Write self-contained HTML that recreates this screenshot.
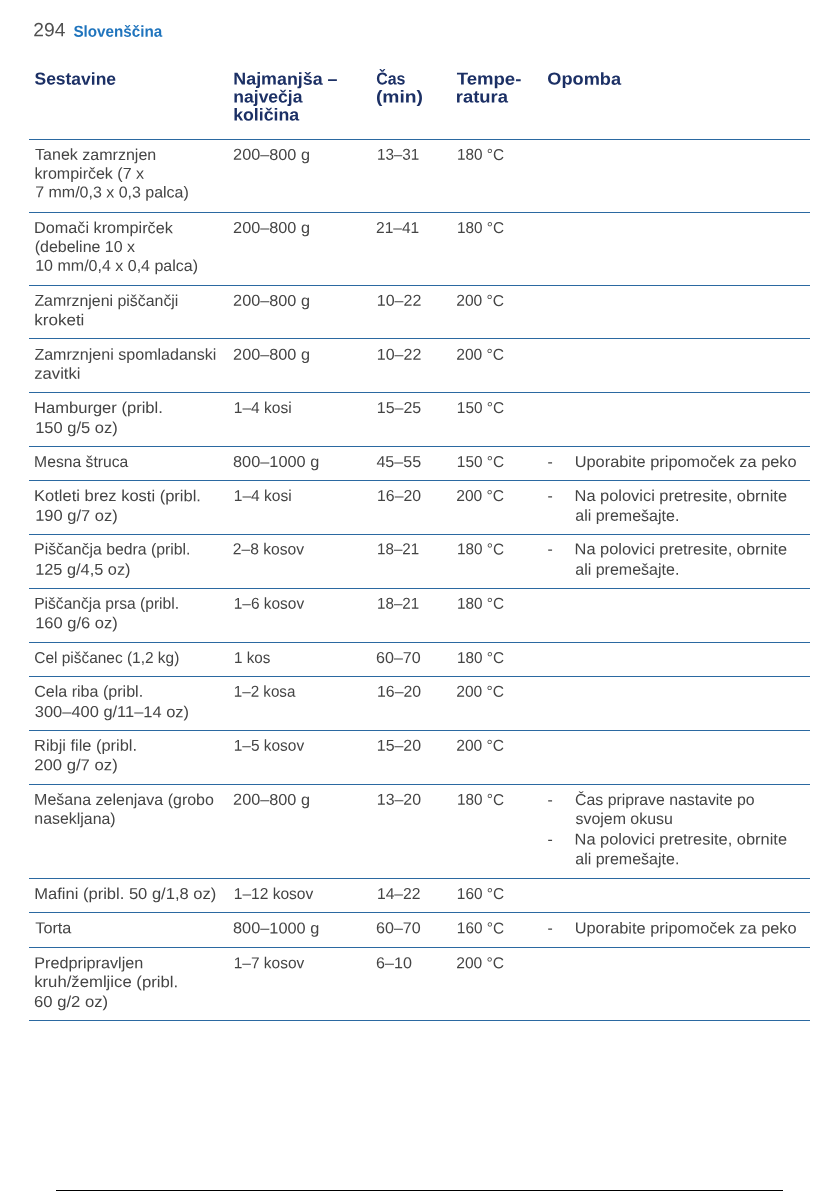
<!DOCTYPE html>
<html lang="sl"><head><meta charset="utf-8"><title>294 Slovenščina</title>
<style>
html,body{margin:0;padding:0;background:#fff;}
body{width:839px;height:1191px;position:relative;overflow:hidden;font-family:"Liberation Sans",sans-serif;}
span{position:absolute;white-space:nowrap;transform-origin:0 0;}
.b{font-size:15.8px;line-height:20px;font-weight:400;color:#444444;}
.h{font-size:17.2px;line-height:20px;font-weight:700;color:#1c3065;}
.pn{font-size:19.2px;line-height:22px;font-weight:400;color:#505050;}
.lang{font-size:15.8px;line-height:20px;font-weight:700;color:#1f74bd;}
.r{position:absolute;left:29px;width:781px;height:1px;background:#2b69a1;}
.foot{position:absolute;left:56px;width:727px;top:1190px;height:1px;background:#000;}
</style></head><body>
<div class="r" style="top:139px"></div><div class="r" style="top:212px"></div><div class="r" style="top:285px"></div><div class="r" style="top:338px"></div><div class="r" style="top:392px"></div><div class="r" style="top:446px"></div><div class="r" style="top:480px"></div><div class="r" style="top:534px"></div><div class="r" style="top:588px"></div><div class="r" style="top:642px"></div><div class="r" style="top:676px"></div><div class="r" style="top:730px"></div><div class="r" style="top:784px"></div><div class="r" style="top:878px"></div><div class="r" style="top:912px"></div><div class="r" style="top:947px"></div><div class="r" style="top:1020px"></div>
<div class="foot"></div>
<span class="pn" style="left:33px;top:19px;transform:translate(0.30px,0.30px) rotate(.04deg) scale(1.0008,1)">294</span>
<span class="lang" style="left:73px;top:21px;transform:translate(0.42px,0.80px) rotate(.04deg) scale(0.9635,1)">Slovenščina</span>
<span class="h" style="left:34px;top:68px;transform:translate(0.49px,0.60px) rotate(.04deg) scale(1.0161,1)">Sestavine</span>
<span class="h" style="left:233px;top:68px;transform:translate(0.33px,0.60px) rotate(.04deg) scale(1.0383,1)">Najmanjša –</span>
<span class="h" style="left:233px;top:86px;transform:translate(0.35px,0.50px) rotate(.04deg) scale(1.0183,1)">največja</span>
<span class="h" style="left:233px;top:104px;transform:translate(0.21px,0.50px) rotate(.04deg) scale(1.0306,1)">količina</span>
<span class="h" style="left:376px;top:68px;transform:translate(0.20px,0.60px) rotate(.04deg) scale(0.9267,1)">Čas</span>
<span class="h" style="left:375px;top:86px;transform:translate(0.92px,0.50px) rotate(.04deg) scale(1.1205,1)">(min)</span>
<span class="h" style="left:456px;top:68px;transform:translate(0.73px,0.60px) rotate(.04deg) scale(1.0803,1)">Tempe-</span>
<span class="h" style="left:455px;top:86px;transform:translate(0.80px,0.50px) rotate(.04deg) scale(1.0702,1)">ratura</span>
<span class="h" style="left:547px;top:68px;transform:translate(0.31px,0.60px) rotate(.04deg) scale(1.0575,1)">Opomba</span>
<span class="b" style="left:35px;top:144px;transform:translate(0.12px,0.85px) rotate(.04deg) scale(1.0144,1)">Tanek zamrznjen</span>
<span class="b" style="left:34px;top:163px;transform:translate(0.61px,0.65px) rotate(.04deg) scale(1.0134,1)">krompirček (7 x</span>
<span class="b" style="left:35px;top:182px;transform:translate(0.22px,0.35px) rotate(.04deg) scale(1.0113,1)">7 mm/0,3 x 0,3 palca)</span>
<span class="b" style="left:233px;top:144px;transform:translate(0.10px,0.85px) rotate(.04deg) scale(1.0296,1)">200–800 g</span>
<span class="b" style="left:376px;top:144px;transform:translate(0.89px,0.85px) rotate(.04deg) scale(0.9672,1)">13–31</span>
<span class="b" style="left:456px;top:144px;transform:translate(0.99px,0.85px) rotate(.04deg) scale(0.9694,1)">180 °C</span>
<span class="b" style="left:34px;top:218px;transform:translate(0.09px,0.05px) rotate(.04deg) scale(1.0265,1)">Domači krompirček</span>
<span class="b" style="left:34px;top:237px;transform:translate(0.74px,0.05px) rotate(.04deg) scale(1.0107,1)">(debeline 10 x</span>
<span class="b" style="left:35px;top:255px;transform:translate(0.23px,0.85px) rotate(.04deg) scale(1.0134,1)">10 mm/0,4 x 0,4 palca)</span>
<span class="b" style="left:233px;top:218px;transform:translate(0.10px,0.05px) rotate(.04deg) scale(1.0296,1)">200–800 g</span>
<span class="b" style="left:376px;top:218px;transform:translate(0.04px,0.05px) rotate(.04deg) scale(0.9822,1)">21–41</span>
<span class="b" style="left:456px;top:218px;transform:translate(0.99px,0.05px) rotate(.04deg) scale(0.9694,1)">180 °C</span>
<span class="b" style="left:34px;top:290px;transform:translate(0.40px,0.85px) rotate(.04deg) scale(1.0064,1)">Zamrznjeni piščančji</span>
<span class="b" style="left:34px;top:310px;transform:translate(0.29px,0.15px) rotate(.04deg) scale(1.0772,1)">kroketi</span>
<span class="b" style="left:233px;top:290px;transform:translate(0.10px,0.85px) rotate(.04deg) scale(1.0296,1)">200–800 g</span>
<span class="b" style="left:376px;top:290px;transform:translate(0.83px,0.85px) rotate(.04deg) scale(1.0125,1)">10–22</span>
<span class="b" style="left:456px;top:290px;transform:translate(0.24px,0.85px) rotate(.04deg) scale(0.9872,1)">200 °C</span>
<span class="b" style="left:34px;top:344px;transform:translate(0.39px,0.65px) rotate(.04deg) scale(1.0163,1)">Zamrznjeni spomladanski</span>
<span class="b" style="left:34px;top:363px;transform:translate(0.24px,0.65px) rotate(.04deg) scale(1.0540,1)">zavitki</span>
<span class="b" style="left:233px;top:344px;transform:translate(0.10px,0.65px) rotate(.04deg) scale(1.0296,1)">200–800 g</span>
<span class="b" style="left:376px;top:344px;transform:translate(0.83px,0.65px) rotate(.04deg) scale(1.0125,1)">10–22</span>
<span class="b" style="left:456px;top:344px;transform:translate(0.24px,0.65px) rotate(.04deg) scale(0.9872,1)">200 °C</span>
<span class="b" style="left:34px;top:397px;transform:translate(0.06px,0.90px) rotate(.04deg) scale(1.0475,1)">Hamburger (pribl.</span>
<span class="b" style="left:35px;top:417px;transform:translate(0.20px,0.95px) rotate(.04deg) scale(1.0436,1)">150 g/5 oz)</span>
<span class="b" style="left:233px;top:397px;transform:translate(0.77px,0.90px) rotate(.04deg) scale(0.9841,1)">1–4 kosi</span>
<span class="b" style="left:376px;top:397px;transform:translate(0.84px,0.90px) rotate(.04deg) scale(1.0095,1)">15–25</span>
<span class="b" style="left:456px;top:397px;transform:translate(0.88px,0.90px) rotate(.04deg) scale(0.9737,1)">150 °C</span>
<span class="b" style="left:34px;top:451px;transform:translate(0.13px,0.90px) rotate(.04deg) scale(0.9928,1)">Mesna štruca</span>
<span class="b" style="left:233px;top:451px;transform:translate(0.03px,0.90px) rotate(.04deg) scale(1.0328,1)">800–1000 g</span>
<span class="b" style="left:376px;top:451px;transform:translate(0.42px,0.90px) rotate(.04deg) scale(1.0169,1)">45–55</span>
<span class="b" style="left:456px;top:451px;transform:translate(0.88px,0.90px) rotate(.04deg) scale(0.9737,1)">150 °C</span>
<span class="b" style="left:547px;top:451px;transform:translate(0.55px,0.90px) rotate(.04deg) scale(1.0000,1)">-</span>
<span class="b" style="left:574px;top:451px;transform:translate(0.71px,0.90px) rotate(.04deg) scale(1.0359,1)">Uporabite pripomoček za peko</span>
<span class="b" style="left:34px;top:486px;transform:translate(0.06px,0.05px) rotate(.04deg) scale(1.0446,1)">Kotleti brez kosti (pribl.</span>
<span class="b" style="left:35px;top:505px;transform:translate(0.20px,0.85px) rotate(.04deg) scale(1.0436,1)">190 g/7 oz)</span>
<span class="b" style="left:233px;top:486px;transform:translate(0.77px,0.05px) rotate(.04deg) scale(0.9841,1)">1–4 kosi</span>
<span class="b" style="left:377px;top:486px;transform:translate(0.05px,0.05px) rotate(.04deg) scale(1.0024,1)">16–20</span>
<span class="b" style="left:456px;top:486px;transform:translate(0.24px,0.05px) rotate(.04deg) scale(0.9872,1)">200 °C</span>
<span class="b" style="left:547px;top:486px;transform:translate(0.55px,0.05px) rotate(.04deg) scale(1.0000,1)">-</span>
<span class="b" style="left:574px;top:486px;transform:translate(0.57px,0.05px) rotate(.04deg) scale(1.0385,1)">Na polovici pretresite, obrnite</span>
<span class="b" style="left:575px;top:505px;transform:translate(0.24px,0.85px) rotate(.04deg) scale(1.0139,1)">ali premešajte.</span>
<span class="b" style="left:34px;top:539px;transform:translate(0.12px,0.35px) rotate(.04deg) scale(1.0007,1)">Piščančja bedra (pribl.</span>
<span class="b" style="left:35px;top:559px;transform:translate(0.21px,0.65px) rotate(.04deg) scale(1.0333,1)">125 g/4,5 oz)</span>
<span class="b" style="left:232px;top:539px;transform:translate(0.83px,0.35px) rotate(.04deg) scale(0.9901,1)">2–8 kosov</span>
<span class="b" style="left:377px;top:539px;transform:translate(0.10px,0.35px) rotate(.04deg) scale(0.9576,1)">18–21</span>
<span class="b" style="left:456px;top:539px;transform:translate(0.99px,0.35px) rotate(.04deg) scale(0.9694,1)">180 °C</span>
<span class="b" style="left:547px;top:539px;transform:translate(0.55px,0.35px) rotate(.04deg) scale(1.0000,1)">-</span>
<span class="b" style="left:574px;top:539px;transform:translate(0.57px,0.35px) rotate(.04deg) scale(1.0385,1)">Na polovici pretresite, obrnite</span>
<span class="b" style="left:575px;top:559px;transform:translate(0.24px,0.65px) rotate(.04deg) scale(1.0139,1)">ali premešajte.</span>
<span class="b" style="left:34px;top:593px;transform:translate(0.14px,0.75px) rotate(.04deg) scale(0.9885,1)">Piščančja prsa (pribl.</span>
<span class="b" style="left:35px;top:613px;transform:translate(0.20px,0.15px) rotate(.04deg) scale(1.0436,1)">160 g/6 oz)</span>
<span class="b" style="left:233px;top:593px;transform:translate(0.78px,0.75px) rotate(.04deg) scale(0.9770,1)">1–6 kosov</span>
<span class="b" style="left:377px;top:593px;transform:translate(0.10px,0.75px) rotate(.04deg) scale(0.9576,1)">18–21</span>
<span class="b" style="left:456px;top:593px;transform:translate(0.99px,0.75px) rotate(.04deg) scale(0.9694,1)">180 °C</span>
<span class="b" style="left:34px;top:647px;transform:translate(0.24px,0.95px) rotate(.04deg) scale(0.9775,1)">Cel piščanec (1,2 kg)</span>
<span class="b" style="left:233px;top:647px;transform:translate(1.00px,0.95px) rotate(.04deg) scale(0.9617,1)">1 kos</span>
<span class="b" style="left:376px;top:647px;transform:translate(0.01px,0.95px) rotate(.04deg) scale(1.0195,1)">60–70</span>
<span class="b" style="left:456px;top:647px;transform:translate(0.99px,0.95px) rotate(.04deg) scale(0.9694,1)">180 °C</span>
<span class="b" style="left:34px;top:681px;transform:translate(0.21px,0.75px) rotate(.04deg) scale(1.0167,1)">Cela riba (pribl.</span>
<span class="b" style="left:34px;top:702px;transform:translate(0.85px,0.05px) rotate(.04deg) scale(1.0403,1)">300–400 g/11–14 oz)</span>
<span class="b" style="left:233px;top:681px;transform:translate(0.80px,0.75px) rotate(.04deg) scale(0.9606,1)">1–2 kosa</span>
<span class="b" style="left:377px;top:681px;transform:translate(0.05px,0.75px) rotate(.04deg) scale(1.0024,1)">16–20</span>
<span class="b" style="left:456px;top:681px;transform:translate(0.24px,0.75px) rotate(.04deg) scale(0.9872,1)">200 °C</span>
<span class="b" style="left:34px;top:735px;transform:translate(0.07px,0.75px) rotate(.04deg) scale(1.0376,1)">Ribji file (pribl.</span>
<span class="b" style="left:34px;top:755px;transform:translate(0.18px,0.15px) rotate(.04deg) scale(1.0567,1)">200 g/7 oz)</span>
<span class="b" style="left:233px;top:735px;transform:translate(0.78px,0.75px) rotate(.04deg) scale(0.9770,1)">1–5 kosov</span>
<span class="b" style="left:376px;top:735px;transform:translate(0.84px,0.75px) rotate(.04deg) scale(1.0071,1)">15–20</span>
<span class="b" style="left:456px;top:735px;transform:translate(0.24px,0.75px) rotate(.04deg) scale(0.9872,1)">200 °C</span>
<span class="b" style="left:34px;top:789px;transform:translate(0.11px,0.85px) rotate(.04deg) scale(1.0138,1)">Mešana zelenjava (grobo</span>
<span class="b" style="left:34px;top:808px;transform:translate(0.37px,0.85px) rotate(.04deg) scale(1.0060,1)">nasekljana)</span>
<span class="b" style="left:233px;top:789px;transform:translate(0.10px,0.85px) rotate(.04deg) scale(1.0296,1)">200–800 g</span>
<span class="b" style="left:376px;top:789px;transform:translate(0.84px,0.85px) rotate(.04deg) scale(1.0071,1)">13–20</span>
<span class="b" style="left:456px;top:789px;transform:translate(0.99px,0.85px) rotate(.04deg) scale(0.9694,1)">180 °C</span>
<span class="b" style="left:547px;top:789px;transform:translate(0.55px,0.95px) rotate(.04deg) scale(1.0000,1)">-</span>
<span class="b" style="left:575px;top:789px;transform:translate(0.12px,0.95px) rotate(.04deg) scale(1.0015,1)">Čas priprave nastavite po</span>
<span class="b" style="left:575px;top:808px;transform:translate(0.50px,0.95px) rotate(.04deg) scale(1.0084,1)">svojem okusu</span>
<span class="b" style="left:547px;top:829px;transform:translate(0.55px,0.45px) rotate(.04deg) scale(1.0000,1)">-</span>
<span class="b" style="left:574px;top:829px;transform:translate(0.57px,0.45px) rotate(.04deg) scale(1.0385,1)">Na polovici pretresite, obrnite</span>
<span class="b" style="left:575px;top:849px;transform:translate(0.24px,0.15px) rotate(.04deg) scale(1.0139,1)">ali premešajte.</span>
<span class="b" style="left:34px;top:883px;transform:translate(0.21px,0.95px) rotate(.04deg) scale(1.0475,1)">Mafini (pribl. 50 g/1,8 oz)</span>
<span class="b" style="left:233px;top:883px;transform:translate(0.77px,0.95px) rotate(.04deg) scale(0.9839,1)">1–12 kosov</span>
<span class="b" style="left:376px;top:883px;transform:translate(0.96px,0.95px) rotate(.04deg) scale(0.9910,1)">14–22</span>
<span class="b" style="left:456px;top:883px;transform:translate(0.88px,0.95px) rotate(.04deg) scale(0.9737,1)">160 °C</span>
<span class="b" style="left:35px;top:918px;transform:translate(0.26px,0.35px) rotate(.04deg) scale(1.0288,1)">Torta</span>
<span class="b" style="left:233px;top:918px;transform:translate(0.03px,0.35px) rotate(.04deg) scale(1.0328,1)">800–1000 g</span>
<span class="b" style="left:376px;top:918px;transform:translate(0.01px,0.35px) rotate(.04deg) scale(1.0195,1)">60–70</span>
<span class="b" style="left:456px;top:918px;transform:translate(0.88px,0.35px) rotate(.04deg) scale(0.9737,1)">160 °C</span>
<span class="b" style="left:547px;top:918px;transform:translate(0.55px,0.35px) rotate(.04deg) scale(1.0000,1)">-</span>
<span class="b" style="left:574px;top:918px;transform:translate(0.71px,0.35px) rotate(.04deg) scale(1.0359,1)">Uporabite pripomoček za peko</span>
<span class="b" style="left:34px;top:953px;transform:translate(0.24px,0.15px) rotate(.04deg) scale(1.0267,1)">Predpripravljen</span>
<span class="b" style="left:34px;top:972px;transform:translate(0.21px,0.05px) rotate(.04deg) scale(1.0577,1)">kruh/žemljice (pribl.</span>
<span class="b" style="left:34px;top:991px;transform:translate(0.08px,0.95px) rotate(.04deg) scale(1.0537,1)">60 g/2 oz)</span>
<span class="b" style="left:233px;top:953px;transform:translate(0.78px,0.15px) rotate(.04deg) scale(0.9784,1)">1–7 kosov</span>
<span class="b" style="left:376px;top:953px;transform:translate(0.01px,0.15px) rotate(.04deg) scale(1.0201,1)">6–10</span>
<span class="b" style="left:456px;top:953px;transform:translate(0.24px,0.15px) rotate(.04deg) scale(0.9872,1)">200 °C</span>
</body></html>
